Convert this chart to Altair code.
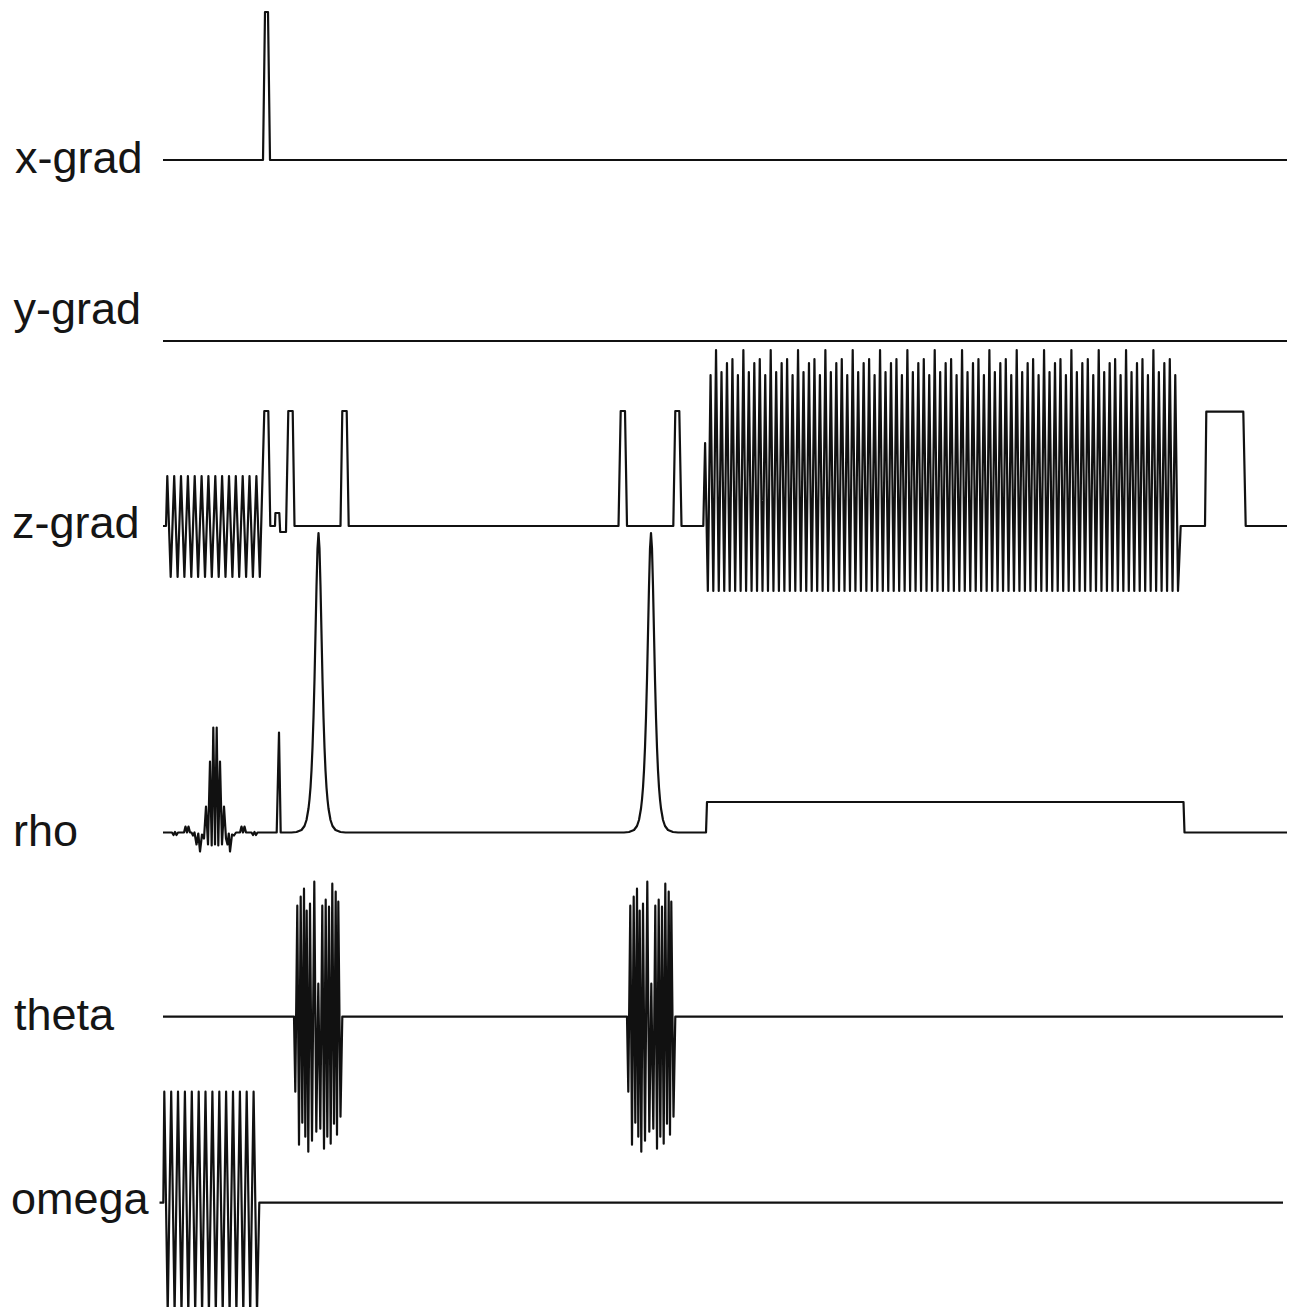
import altair as alt
import pandas as pd

# ---------------- labels ----------------
LABELS = ["x-grad", "y-grad", "z-grad", "rho", "theta", "omega"]

# ---------------- values (time axis in reference units, amplitudes in reference units) ----------------
# x-grad
XG_T = [163, 263, 265, 268, 270, 1287]
XG_A = [0, 0, 148, 148, 0, 0]

# y-grad
YG_T = [163, 1287]
YG_A = [0, 0]

# z-grad
ZG_START_T = [163, 166]
ZG_START_A = [0, 0]
ZG_PRE_PEAK_T = [167.3, 174.2, 181.0, 187.9, 194.7, 201.6, 208.4, 215.3, 222.1, 229.0, 235.8, 242.7, 249.5, 256.4]
ZG_PRE_TROUGH_T = [170.7, 177.6, 184.4, 191.3, 198.1, 205.0, 211.8, 218.7, 225.5, 232.4, 239.2, 246.1, 252.9, 259.8]
ZG_PRE_PEAK_A = 50
ZG_PRE_TROUGH_A = -51
ZG_MID_T = [264.3, 268.3, 270.3, 275, 275.4, 279.3, 280.2, 286, 288.3, 292.7, 294.5,
            340.5, 342.3, 346.7, 348.7, 618.5, 620.7, 625, 627, 673.3, 675.3, 679.3, 681.5, 703.3]
ZG_MID_A = [115, 115, 0, 0, 13, 13, -6, -6, 115, 115, 0,
            0, 115, 115, 0, 0, 115, 115, 0, 0, 115, 115, 0, 0]
ZG_EPI_START = 705.1
ZG_EPI_STEP = 5.467
ZG_EPI_PEAK_A = [83, 151,
                 176, 154, 163, 167, 151, 176, 154, 163, 167, 151, 176, 154, 163, 167, 151,
                 176, 154, 163, 167, 151, 176, 154, 163, 167, 151, 176, 154, 163, 167, 151,
                 176, 154, 163, 167, 151, 176, 154, 163, 167, 151, 176, 154, 163, 167, 151,
                 176, 154, 163, 167, 151, 176, 154, 163, 167, 151, 176, 154, 163, 167, 151,
                 176, 154, 163, 167, 151, 176, 154, 163, 167, 151, 176, 154, 163, 167, 151,
                 176, 154, 163, 167, 151, 176, 154, 163, 167, 151]
ZG_EPI_TROUGH_A = -65
ZG_END_T = [1180.7, 1205, 1206.3, 1243.3, 1245.7, 1287]
ZG_END_A = [0, 0, 114.3, 114.3, 0, 0]

# rho
RHO_SINC_T = [163, 172, 173.5, 175, 176.5, 178, 184, 185.5, 187, 188.5, 190, 191.5, 193, 194.5,
              196.5, 198.3, 200, 202, 204, 206, 208, 210, 211.7, 213.3, 215, 216.7, 218.3, 220,
              222, 224, 226, 227.5, 228.8, 230, 232, 234, 236, 240, 241.5, 243, 244.5, 246,
              251.5, 253, 254.5, 256, 257.5]
RHO_SINC_A = [0, 0, -2.5, 0.5, -2.5, 0, 0, 6, 0, 6, 0, 0, -3, 0,
              -12, -1, -19, -2, -6, 26, -12, 71, -13, 105, -12, 105, -13, 71,
              -12, 26, -6, -12, -1, -19, -2, -3, 0, 0, 6, 0, 6, 0,
              0, -2.5, 0.5, -2.5, 0]
RHO_SPIKE_T = [276.7, 279, 280.7]
RHO_SPIKE_A = [0, 100, 0]
RHO_PEAK_CENTERS = [318.5, 651]
RHO_PEAK_OFF = [-27, -22, -17, -14, -12, -10, -9, -8, -7, -6, -5, -4, -3, -2, -1, 0,
                1, 2, 3, 4, 5, 6, 7, 8, 9, 10, 12, 14, 17, 22, 27]
RHO_PEAK_A = [0, 0.5, 2.5, 6.5, 12.5, 24, 33, 45, 62, 85, 115, 153, 199, 246, 284, 299.5,
              284, 246, 199, 153, 115, 85, 62, 45, 33, 24, 12.5, 6.5, 2.5, 0.5, 0]
RHO_END_T = [706, 707, 1183.5, 1184.5, 1287]
RHO_END_A = [0, 30.5, 30.5, 0, 0]

# theta
THETA_BURST_STARTS = [294, 627]
THETA_BURST_OFF = [0, 1.3, 3.3, 5.0, 6.7, 8.3, 10.0, 11.3, 12.7, 14.3, 16.0, 18.0, 20.3, 22.3,
                   24.3, 26.3, 28.3, 30.0, 31.7, 33.3, 35.0, 36.7, 38.3, 40.0, 41.7, 43.0,
                   44.3, 46.5, 48.3]
THETA_BURST_A = [0, -75, 111, -128, 120, -106, 128, -120, 106, -135, 113, -124, 135, -115,
                 33, -112, 111, -132, 117, -120, 110, -127, 133, -107, 125, -118,
                 115, -100, 0]
THETA_T_RANGE = [163, 1283]

# omega
OM_START_T = [159.5, 163.3]
OM_PEAK_T = [164.3, 171.2, 178.0, 184.9, 191.8, 198.7, 205.5, 212.4, 219.3, 226.1, 233.0, 239.9, 246.7, 253.6]
OM_TROUGH_T = [167.7, 174.6, 181.5, 188.3, 195.2, 202.1, 208.9, 215.8, 222.7, 229.6, 236.4, 243.3, 250.2, 257.0]
OM_PEAK_A = 111
OM_TROUGH_A = -110.6
OM_END_T = [259.3, 1283]

# ---------------- layout (reference pixel rows) ----------------
BASE = {"x-grad": 160, "y-grad": 341, "z-grad": 526, "rho": 832.5, "theta": 1016.7, "omega": 1202.7}
LABEL_X = {"x-grad": 15, "y-grad": 13.5, "z-grad": 12, "rho": 13, "theta": 14, "omega": 11}
LABEL_Y = {"x-grad": 173, "y-grad": 324, "z-grad": 538, "rho": 846, "theta": 1030, "omega": 1214}

# ---------------- build vertex table ----------------
rows = []


def add(trace, ts, amps):
    b = BASE[trace]
    for t, a in zip(ts, amps):
        rows.append({"trace": trace, "t": t, "y": b - a, "i": len(rows)})


add("x-grad", XG_T, XG_A)
add("y-grad", YG_T, YG_A)

# z-grad
add("z-grad", ZG_START_T, ZG_START_A)
for pt, tt in zip(ZG_PRE_PEAK_T, ZG_PRE_TROUGH_T):
    add("z-grad", [pt, tt], [ZG_PRE_PEAK_A, ZG_PRE_TROUGH_A])
add("z-grad", ZG_MID_T, ZG_MID_A)
for k, a in enumerate(ZG_EPI_PEAK_A):
    tp = ZG_EPI_START + k * ZG_EPI_STEP
    add("z-grad", [tp, tp + ZG_EPI_STEP / 2], [a, ZG_EPI_TROUGH_A])
add("z-grad", ZG_END_T, ZG_END_A)

# rho
add("rho", RHO_SINC_T, RHO_SINC_A)
add("rho", RHO_SPIKE_T, RHO_SPIKE_A)
for c in RHO_PEAK_CENTERS:
    add("rho", [c + o for o in RHO_PEAK_OFF], RHO_PEAK_A)
add("rho", RHO_END_T, RHO_END_A)

# theta
add("theta", [THETA_T_RANGE[0]], [0])
for s in THETA_BURST_STARTS:
    add("theta", [s + o for o in THETA_BURST_OFF], THETA_BURST_A)
add("theta", [THETA_T_RANGE[1]], [0])

# omega
add("omega", OM_START_T, [0, 0])
for pt, tt in zip(OM_PEAK_T, OM_TROUGH_T):
    add("omega", [pt, tt], [OM_PEAK_A, OM_TROUGH_A])
add("omega", OM_END_T, [0, 0])

df = pd.DataFrame(rows)
labels_df = pd.DataFrame({
    "label": LABELS,
    "t": [LABEL_X[l] for l in LABELS],
    "y": [LABEL_Y[l] for l in LABELS],
})

W, H = 1282, 1299
xs = alt.Scale(domain=[8, 8 + W], nice=False, zero=False)
ys = alt.Scale(domain=[8 + H, 8], nice=False, zero=False)

lines = alt.Chart(df).mark_line(color="#111111", strokeWidth=2.2, strokeJoin="round").encode(
    x=alt.X("t:Q", scale=xs, axis=None),
    y=alt.Y("y:Q", scale=ys, axis=None),
    detail="trace:N",
    order="i:Q",
)

texts = alt.Chart(labels_df).mark_text(
    align="left", baseline="alphabetic", fontSize=45, font="Liberation Sans", color="#151515"
).encode(
    x=alt.X("t:Q", scale=xs, axis=None),
    y=alt.Y("y:Q", scale=ys, axis=None),
    text="label:N",
)

chart = alt.layer(lines, texts).properties(
    width=W, height=H, padding=0, autosize=alt.AutoSizeParams(type="none"), background="white"
).configure_view(stroke=None)

chart.save("out.html", embed_options={"renderer": "svg", "actions": False})
